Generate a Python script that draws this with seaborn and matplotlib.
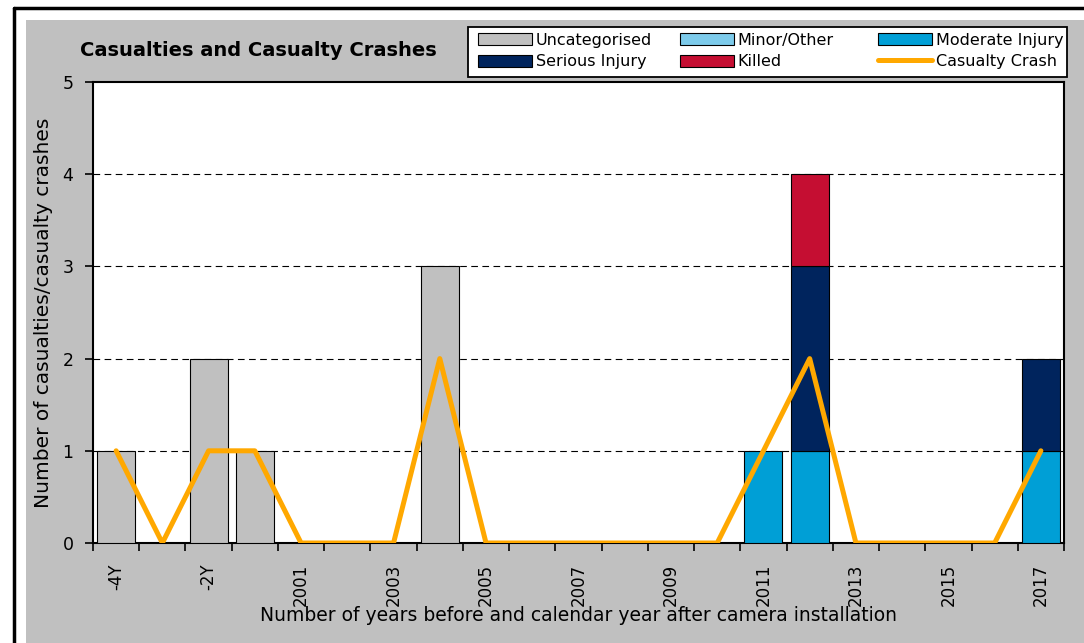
import numpy as np
import pandas as pd
import matplotlib
matplotlib.use("Agg")
import matplotlib.pyplot as plt
from matplotlib.patches import Rectangle
from matplotlib.lines import Line2D
import seaborn as sns

categories = ["-4Y", "-3Y", "-2Y", "-1Y"] + [str(y) for y in range(2001, 2018)]
tick_labels = ["-4Y", "", "-2Y", "", "2001", "", "2003", "", "2005", "", "2007", "",
               "2009", "", "2011", "", "2013", "", "2015", "", "2017"]
uncategorised = [1, 0, 2, 1, 0, 0, 0, 3, 0, 0, 0, 0, 0, 0, 0, 0, 0, 0, 0, 0, 0]
minor_other   = [0] * 21
moderate      = [0, 0, 0, 0, 0, 0, 0, 0, 0, 0, 0, 0, 0, 0, 1, 1, 0, 0, 0, 0, 1]
serious       = [0, 0, 0, 0, 0, 0, 0, 0, 0, 0, 0, 0, 0, 0, 0, 2, 0, 0, 0, 0, 1]
killed        = [0, 0, 0, 0, 0, 0, 0, 0, 0, 0, 0, 0, 0, 0, 0, 1, 0, 0, 0, 0, 0]
casualty_crash = [1, 0, 1, 1, 0, 0, 0, 2, 0, 0, 0, 0, 0, 0, 1, 2, 0, 0, 0, 0, 1]

series = [("Uncategorised", uncategorised, "#C0C0C0"),
          ("Minor/Other", minor_other, "#7DCBEB"),
          ("Moderate Injury", moderate, "#009FD6"),
          ("Serious Injury", serious, "#00245D"),
          ("Killed", killed, "#C50E32")]
line_color = "#FFA800"

sns.set_theme(style="white")
plt.rcParams['font.family'] = ['DejaVu Sans']
plt.rcParams['text.color'] = 'black'
plt.rcParams['axes.labelcolor'] = 'black'
plt.rcParams['xtick.color'] = 'black'
plt.rcParams['ytick.color'] = 'black'

W, H = 1084, 643
fig = plt.figure(figsize=(W / 100, H / 100), dpi=100)
fig.patch.set_facecolor("white")
# gray chart area and outer border
fig.add_artist(Rectangle((26 / W, 0), 1 - 26 / W, 1 - 20 / H,
                         transform=fig.transFigure, facecolor="#C0C0C0",
                         edgecolor="none", zorder=-10))
fig.add_artist(Line2D([14 / W, 1], [1 - 8 / H, 1 - 8 / H],
                      transform=fig.transFigure, color="black", lw=2.5))
fig.add_artist(Line2D([14 / W, 14 / W], [0, 1 - 8 / H],
                      transform=fig.transFigure, color="black", lw=2.5))

ax = fig.add_axes([93 / W, 1 - 543 / H, (1064 - 93) / W, (543 - 82) / H])
ax.set_facecolor("white")

bottom = np.zeros(len(categories))
handles = []
for name, vals, col in series:
    vals = np.array(vals, dtype=float)
    sns.barplot(x=categories, y=vals, order=categories, bottom=bottom.copy(),
                color=col, saturation=1, width=0.82,
                edgecolor="black", linewidth=0.8, ax=ax, zorder=3)
    bottom += vals
    handles.append(Rectangle((0, 0), 1, 1, facecolor=col, edgecolor="black", linewidth=0.8))
for p in ax.patches:
    if p.get_height() == 0:
        p.set_visible(False)

sns.lineplot(x=np.arange(len(categories)), y=casualty_crash, color=line_color,
             linewidth=3.6, ax=ax, zorder=4)
handles.append(Line2D([0], [0], color=line_color, lw=3.6))

ax.set_xlim(-0.5, len(categories) - 0.5)
ax.set_ylim(0, 5)
ax.set_yticks(range(6))
ax.set_yticklabels([str(i) for i in range(6)], fontsize=12.5)
ax.set_xticks(np.arange(len(categories)))
ax.set_xticklabels(tick_labels, rotation=90, fontsize=12)
ax.set_xticks(np.arange(len(categories) + 1) - 0.5, minor=True)
ax.tick_params(axis="x", which="major", length=0, pad=15, bottom=True)
ax.tick_params(axis="x", which="minor", length=6, width=1.2, direction="out",
               color="black", bottom=True)
ax.tick_params(axis="y", length=6, width=1.2, direction="out", color="black",
               left=True, pad=8)
for y in [1, 2, 3, 4]:
    ax.axhline(y, color="black", lw=0.8, ls=(0, (6, 4)), zorder=1)
for s in ax.spines.values():
    s.set_visible(True)
    s.set_color("black")
    s.set_linewidth(1.5)

ax.set_ylabel("Number of casualties/casualty crashes", fontsize=14.5, labelpad=7)
ax.set_xlabel("Number of years before and calendar year after camera installation",
              fontsize=13.5, labelpad=0)

fig.text(80 / W, 1 - 50 / H, "Casualties and Casualty Crashes", fontsize=14,
         fontweight="bold", ha="left", va="center")

# legend: frame + three equally spaced columns
fig.add_artist(Rectangle((468 / W, 1 - 77 / H), (1067 - 468) / W, 50 / H,
                         transform=fig.transFigure, facecolor="white",
                         edgecolor="black", linewidth=1.3, zorder=5))
labels = [s[0] for s in series] + ["Casualty Crash"]
cols = [[0, 3], [1, 4], [2, 5]]
xs = [478, 680, 878]
for x0, idx in zip(xs, cols):
    leg = fig.legend([handles[i] for i in idx], [labels[i] for i in idx],
                     loc="center left", bbox_to_anchor=(x0 / W, 1 - 51 / H),
                     fontsize=11.5, frameon=False, handlelength=3.4,
                     handleheight=0.8, handletextpad=0.2, labelspacing=0.4,
                     borderpad=0, borderaxespad=0)
    leg.set_zorder(6)

fig.savefig("out.png", dpi=100, facecolor=fig.get_facecolor())
